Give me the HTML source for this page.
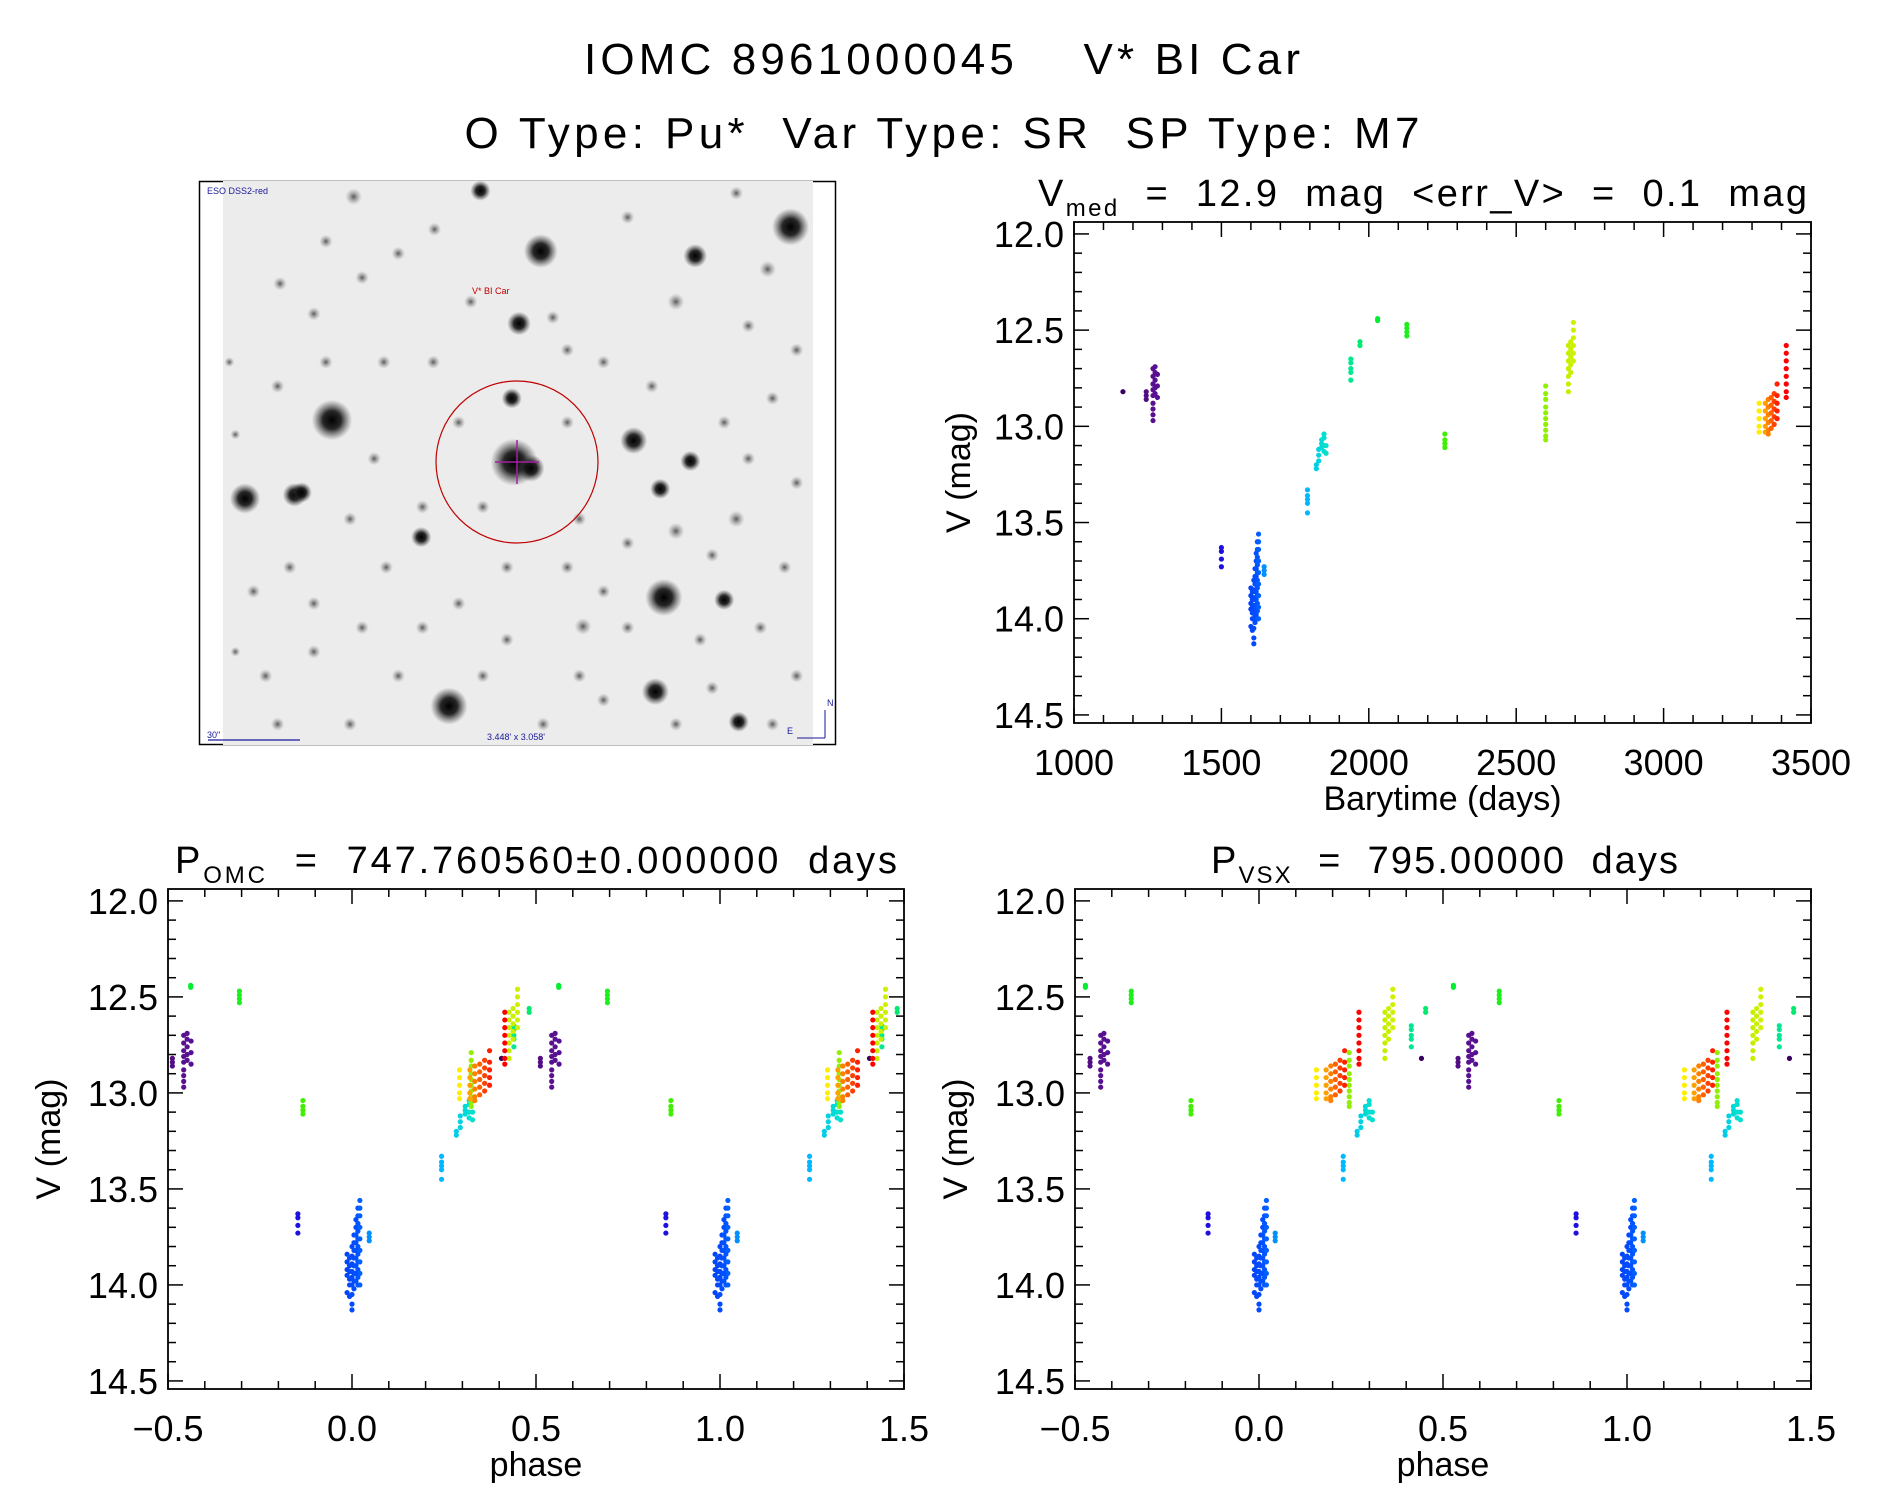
<!DOCTYPE html>
<html><head><meta charset="utf-8">
<style>
html,body{margin:0;padding:0;background:#fff;}
svg{display:block;font-family:"Liberation Sans",sans-serif;}
text{white-space:pre;}
</style></head>
<body>
<svg id="root" width="1889" height="1494" viewBox="0 0 1889 1494" xmlns="http://www.w3.org/2000/svg">
<defs>
<radialGradient id="starg">
<stop offset="0" stop-color="#000" stop-opacity="1"/>
<stop offset="0.45" stop-color="#111" stop-opacity="0.9"/>
<stop offset="1" stop-color="#444" stop-opacity="0"/>
</radialGradient>
<radialGradient id="faintg">
<stop offset="0" stop-color="#333" stop-opacity="0.8"/>
<stop offset="1" stop-color="#888" stop-opacity="0"/>
</radialGradient>
<clipPath id="imgclip"><rect x="223" y="181" width="590" height="564"/></clipPath>
</defs>
<text x="942" y="74" font-size="44" text-anchor="middle" textLength="716" lengthAdjust="spacing" xml:space="preserve">IOMC 8961000045    V* BI Car</text>
<text x="942" y="148" font-size="44" text-anchor="middle" textLength="955" lengthAdjust="spacing" xml:space="preserve">O Type: Pu*  Var Type: SR  SP Type: M7</text>

<g id="imgpanel">
<rect x="199.5" y="181.5" width="636" height="563" fill="none" stroke="#000" stroke-width="1.5"/>
<rect x="223" y="181" width="590" height="564" fill="#ececec"/>
<g id="stars" clip-path="url(#imgclip)"></g>
<circle cx="517" cy="462" r="81" fill="none" stroke="#c00000" stroke-width="1.2"/>
<line x1="517" y1="440" x2="517" y2="484" stroke="#a020a0" stroke-width="1.5"/>
<line x1="495" y1="462" x2="539" y2="462" stroke="#a020a0" stroke-width="1.5"/>
<text x="207" y="194" font-size="9" fill="#1a1a9a">ESO DSS2-red</text>
<text x="472" y="294" font-size="9" fill="#c00000">V* BI Car</text>
<text x="207" y="738" font-size="9" fill="#1a1a9a">30"</text>
<line x1="208" y1="740" x2="300" y2="740" stroke="#1a1a9a" stroke-width="1.2"/>
<text x="487" y="740" font-size="9" fill="#1a1a9a">3.448' x 3.058'</text>
<text x="787" y="734" font-size="9" fill="#1a1a9a">E</text>
<text x="827" y="706" font-size="9" fill="#1a1a9a">N</text>
<path d="M825 738 L825 710 M797 738 L825 738" stroke="#1a1a9a" stroke-width="1" fill="none"/>
</g>

<g id="p1"></g>
<g id="p2"></g>
<g id="p3"></g>
</svg>
<script>
// ---- data ----
const times = [1166,
1245,1245,1245,
1268,1268,1268,1268,1268,1268,1268,1268,1268,
1275,1275,1275,1275,1275,
1283,1283,1283,
1500,1500,1500,1500,
1600,1600,1600,1600,1600,
1605,1605,1605,1605,1605,1605,
1610,1610,1610,1610,1610,1610,1610,1610,1610,
1614,1614,1614,1614,1614,1614,1614,1614,
1618,1618,1618,1618,1618,1618,1618,1618,1618,
1622,1622,1622,1622,1622,1622,1622,1622,1622,1622,1622,
1626,1626,1626,1626,1626,1626,1626,1626,1626,
1645,1645,1645,
1792,1792,1792,1792,1792,
1822,1822,1830,1830,1830,1840,1840,1840,1848,1848,1848,1848,1855,1855,
1939,1939,1939,1939,1939,
1970,1970,
2030,2030,
2129,2129,2129,2129,
2258,2258,2258,2258,
2600,2600,2600,2600,2600,2600,2600,2600,2600,2600,
2677,2677,2677,2677,2677,2677,2677,
2685,2685,2685,2685,2685,
2694,2694,2694,2694,2694,2694,
3324,3324,3324,3324,3324,
3345,3345,3345,3345,3345,
3355,3355,3355,3355,3355,3355,
3365,3365,3365,3365,3365,
3375,3375,3375,3375,3375,
3385,3385,3385,3385,3385,
3416,3416,3416,3416,3416,3416,3416,3416];
const mags = [12.82,
12.82,12.84,12.86,
12.70,12.74,12.78,12.81,12.84,12.88,12.91,12.94,12.97,
12.69,12.72,12.76,12.80,12.83,
12.73,12.79,12.85,
13.63,13.65,13.69,13.73,
13.84,13.88,13.92,13.95,14.04,
13.86,13.90,13.93,13.97,14.00,14.06,
13.80,13.85,13.89,13.93,13.96,14.00,14.05,14.13,14.10,
13.74,13.78,13.82,13.86,13.90,13.94,13.98,14.02,
13.66,13.70,13.74,13.78,13.82,13.86,13.90,13.94,13.98,
13.60,13.64,13.68,13.72,13.76,13.80,13.84,13.88,13.92,13.96,14.00,
13.56,13.60,13.64,13.70,13.76,13.82,13.88,13.94,14.00,
13.73,13.75,13.77,
13.33,13.36,13.38,13.40,13.45,
13.20,13.22,13.12,13.15,13.18,13.07,13.09,13.11,13.04,13.06,13.10,13.13,13.10,13.14,
12.65,12.67,12.70,12.72,12.76,
12.56,12.58,
12.44,12.45,
12.47,12.49,12.51,12.53,
13.04,13.07,13.09,13.11,
12.79,12.83,12.86,12.90,12.93,12.96,12.99,13.02,13.05,13.07,
12.58,12.62,12.66,12.70,12.74,12.78,12.82,
12.56,12.60,12.64,12.68,12.72,
12.46,12.50,12.54,12.58,12.62,12.66,
12.88,12.92,12.96,13.00,13.03,
12.88,12.92,12.96,13.00,13.03,
12.86,12.90,12.94,12.98,13.02,13.04,
12.85,12.89,12.93,12.97,13.01,
12.83,12.87,12.91,12.95,12.99,
12.78,12.84,12.88,12.92,12.96,
12.58,12.62,12.66,12.70,12.74,12.78,12.82,12.85];
const periodOMC = 747.760560;
const periodVSX = 795.0;
const epoch = 1610;
const yTickValues = [12.0,12.5,13.0,13.5,14.0,14.5];
const timeTickValues = [1000,1500,2000,2500,3000,3500];
const phaseTickValues = [-0.5,0.0,0.5,1.0,1.5];
const phaseTickLabels = ["\u22120.5","0.0","0.5","1.0","1.5"];

// ---- colour map (style) ----
const cstops = [[1166,[58,0,96]],[1270,[90,16,144]],[1500,[32,16,224]],[1620,[0,80,255]],[1645,[0,144,255]],[1792,[0,184,255]],[1850,[0,224,208]],[1939,[0,232,144]],[2030,[0,238,48]],[2258,[64,240,0]],[2600,[144,240,0]],[2694,[208,240,0]],[3324,[255,238,0]],[3345,[255,160,0]],[3365,[255,96,0]],[3385,[255,32,0]],[3416,[255,0,0]]];
function colorFor(t){
  if(t<=cstops[0][0]) return 'rgb('+cstops[0][1]+')';
  for(let i=1;i<cstops.length;i++){
    if(t<=cstops[i][0]){const a=cstops[i-1],b=cstops[i];const f=(t-a[0])/(b[0]-a[0]);
      return 'rgb('+a[1].map((v,k)=>Math.round(v+(b[1][k]-v)*f)).join(',')+')';}
  }
  return 'rgb('+cstops[cstops.length-1][1]+')';
}
const NS='http://www.w3.org/2000/svg';
function mk(tag,attrs,parent){const e=document.createElementNS(NS,tag);for(const k in attrs)e.setAttribute(k,attrs[k]);parent.appendChild(e);return e;}

function panel(g,box,xdom,ydom,xMajor,xLabels,xMinorStep,xTitle,opts){
  const sx=v=>box.x0+(v-xdom[0])/(xdom[1]-xdom[0])*(box.x1-box.x0);
  const sy=v=>box.y0+(v-ydom[0])/(ydom[1]-ydom[0])*(box.y1-box.y0);
  const fr=mk('rect',{x:box.x0,y:box.y0,width:box.x1-box.x0,height:box.y1-box.y0,fill:'none',stroke:'#000','stroke-width':1.8},g);
  
  
  for(let v=12.0;v<=14.5001;v+=0.1){
    const y=sy(v);const major=Math.abs(v*2-Math.round(v*2))<1e-6;const L=major?15:8;
    mk('line',{x1:box.x0,y1:y,x2:box.x0+L,y2:y,stroke:'#000','stroke-width':1.5},g);
    mk('line',{x1:box.x1,y1:y,x2:box.x1-L,y2:y,stroke:'#000','stroke-width':1.5},g);
  }
  yTickValues.forEach(v=>{
    const t=mk('text',{x:box.x0-10,y:sy(v)+13,'font-size':36,'text-anchor':'end'},g);
    t.textContent=v.toFixed(1);
    
    
  });
  const nMinor=Math.round((xdom[1]-xdom[0])/xMinorStep);
  for(let i=0;i<=nMinor;i++){
    const v=xdom[0]+i*xMinorStep;const x=sx(v);
    const major=xMajor.some(m=>Math.abs(m-v)<1e-6);const L=major?15:8;
    mk('line',{x1:x,y1:box.y1,x2:x,y2:box.y1-L,stroke:'#000','stroke-width':1.5},g);
    mk('line',{x1:x,y1:box.y0,x2:x,y2:box.y0+L,stroke:'#000','stroke-width':1.5},g);
  }
  xMajor.forEach((v,i)=>{
    const t=mk('text',{x:sx(v),y:box.y1+52,'font-size':36,'text-anchor':'middle'},g);
    t.textContent=xLabels[i];
    
    
  });
  const xt=mk('text',{x:(box.x0+box.x1)/2,y:box.y1+87,'font-size':34,'text-anchor':'middle'},g);
  xt.textContent=xTitle;
  
  
  const yt=mk('text',{x:0,y:0,'font-size':34,'text-anchor':'middle',transform:'translate('+(opts.ylx)+','+((box.y0+box.y1)/2)+') rotate(-90)'},g);
  yt.textContent='V (mag)';
  
  
  return {sx,sy};
}
function titleSub(g,x,y,main,sub,rest,w){
  const t=mk('text',{x:x,y:y,'font-size':38,textLength:w,lengthAdjust:'spacing'},g);
  
  
  const a=mk('tspan',{},t);a.textContent=main;
  const b=mk('tspan',{'font-size':24,dy:10},t);b.textContent=sub;
  const c=mk('tspan',{dy:-10},t);c.textContent=rest;
  return t;
}
const ydom=[11.938,14.542];
const g1=document.getElementById('p1');
const a1=panel(g1,{x0:1074,x1:1811,y0:222,y1:723},[1000,3500],ydom,timeTickValues,timeTickValues.map(String),100,'Barytime (days)',{ylx:970});
titleSub(g1,1038,206,'V','med','  =  12.9  mag  <err_V>  =  0.1  mag',769);
times.forEach((t,i)=>{
  const c=mk('circle',{cx:a1.sx(t),cy:a1.sy(mags[i]),r:2.6,fill:colorFor(t)},g1);
  
  
});
function phasePanel(id,x0,x1,P,titleSubTxt,titleRest,tx,tw){
  const g=document.getElementById(id);
  const a=panel(g,{x0:x0,x1:x1,y0:889,y1:1389},[-0.5,1.5],ydom,phaseTickValues,phaseTickLabels,0.1,'phase',{ylx:x0-108});
  titleSub(g,tx,873,'P',titleSubTxt,titleRest,tw);
  times.forEach((t,i)=>{
    let ph=((t-epoch)/P)%1; if(ph<0) ph+=1; if(ph>=0.5) ph-=1;
    [ph,ph+1].forEach(p=>{
      const c=mk('circle',{cx:a.sx(p),cy:a.sy(mags[i]),r:2.6,fill:colorFor(t)},g);
      
      
    });
  });
}
phasePanel('p2',168,904,periodOMC,'OMC','  =  747.760560\u00b10.000000  days',175,722);
phasePanel('p3',1075,1811,periodVSX,'VSX','  =  795.00000  days',1211,467);

const starList=[[655,188,11],[448,208,10],[576,212,7],[430,268,7],[275,348,12],[203,413,9],[244,410,7],[250,408,6],[426,383,14],[440,388,8],[525,365,8],[547,405,6],[550,495,11],[372,585,11],[543,573,8],[600,497,6],[483,519,5],[398,158,6],[293,163,5],[636,223,5],[349,445,6],[572,382,6],[232,235,4],[612,598,6],[318,300,4],[424,330,6],[458,263,4],[359,300,4],[300,230,4],[260,260,4],[620,270,4],[640,330,4],[600,350,4],[660,400,4],[610,430,5],[480,430,4],[400,420,4],[350,420,4],[320,470,4],[300,520,4],[260,540,4],[220,560,4],[210,490,4],[240,470,4],[380,500,4],[420,530,4],[470,470,4],[520,520,4],[580,530,4],[630,520,4],[660,560,4],[640,600,4],[500,580,4],[450,600,4],[330,560,4],[290,600,4],[230,600,4],[500,300,4],[540,320,4],[560,250,5],[520,180,4],[360,190,4],[330,210,4],[270,300,4],[230,320,4],[470,350,4],[560,440,5],[500,490,4],[590,460,4],[650,470,4],[190,300,3],[195,360,3],[195,540,3],[560,600,4],[420,470,4],[400,560,4],[310,380,4],[290,430,4],[380,350,4],[470,290,4],[620,380,4],[660,290,4],[480,560,4],[350,520,4],[260,500,4],[590,570,4],[520,450,4],[390,250,4],[270,200,4],[610,160,4]];
const sg=document.getElementById('stars');
starList.forEach(s=>{
  const c=mk('circle',{cx:s[0]*1.207,cy:s[1]*1.207,r:s[2]*1.207*1.4,fill:s[2]>=6?'url(#starg)':'url(#faintg)'},sg);
  
  
});
</script>
</body></html>
